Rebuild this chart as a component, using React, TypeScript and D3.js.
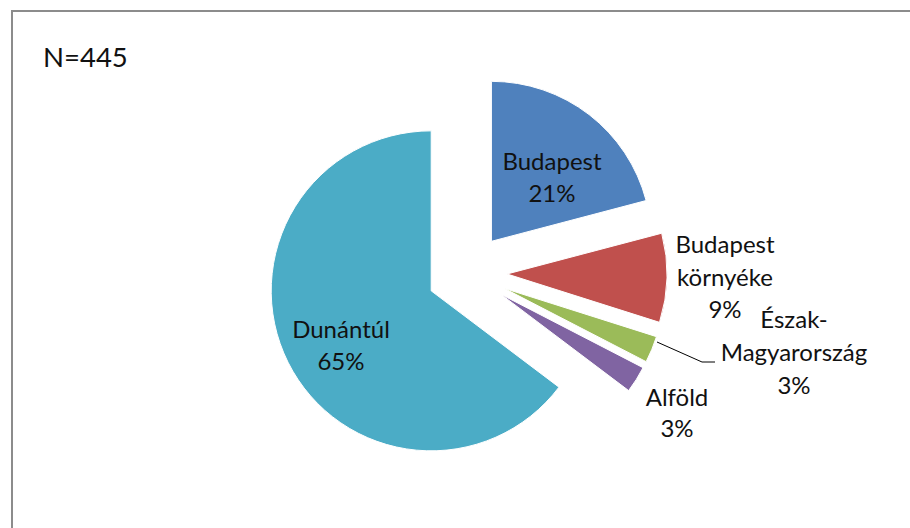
import React from "react";
import * as d3 from "d3";

const categories = ["Budapest", "Budapest környéke", "Észak-Magyarország", "Alföld", "Dunántúl"];
const counts = [93, 40, 12, 12, 288];
const percentLabels = ["21%", "9%", "3%", "3%", "65%"];
const colors = ["#4F81BD", "#C0504D", "#9BBB59", "#8064A2", "#4BACC6"];
const labelLines = [["Budapest", "21%"], ["Budapest", "környéke", "9%"], ["Észak-", "Magyarország", "3%"], ["Alföld", "3%"], ["Dunántúl", "65%"]];
const labelPos: [number, number, number][] = [
  [552, 170, 32],
  [725, 253, 32.5],
  [794, 328, 33],
  [677, 406, 31],
  [341, 338, 32],
];
const totalN = "N=445";

export default function App() {
  const W = 910, H = 528;
  const cx = 467, cy = 273, r = 160, explode = 40;
  const pie = d3.pie<number>().sort(null).startAngle(0).endAngle(2 * Math.PI).value((d) => d);
  const arcs = pie(counts);
  const arc = d3.arc<d3.PieArcDatum<number>>().innerRadius(0).outerRadius(r);
  const font = "Lato, 'Open Sans', sans-serif";
  return (
    <svg width={W} height={H} style={{ position: "absolute", left: 0, top: 0, background: "#fff" }}>
      <rect x={12} y={11} width={W + 10} height={H + 10} fill="#fff" stroke="#8c8c8c" strokeWidth={2} />
      <text x={43} y={67} fontFamily={font} fontSize={27.5} fill="#111">{totalN}</text>
      {arcs.map((a, i) => {
        const mid = (a.startAngle + a.endAngle) / 2;
        const dx = Math.sin(mid) * explode;
        const dy = -Math.cos(mid) * explode;
        return (
          <path key={categories[i]} d={arc(a) || ""} transform={`translate(${cx + dx},${cy + dy})`} fill={colors[i]} stroke="#fff" strokeWidth={1} />
        );
      })}
      <polyline points="657,342 702,362 715,362" fill="none" stroke="#000" strokeWidth={1} />
      {labelLines.map((lines, i) => (
        <text key={i} fontFamily={font} fontSize={24} fill="#111" textAnchor="middle">
          {lines.map((l, j) => (
            <tspan key={j} x={labelPos[i][0]} y={labelPos[i][1] + j * labelPos[i][2]}>{j === lines.length - 1 ? percentLabels[i] : l}</tspan>
          ))}
        </text>
      ))}
    </svg>
  );
}
